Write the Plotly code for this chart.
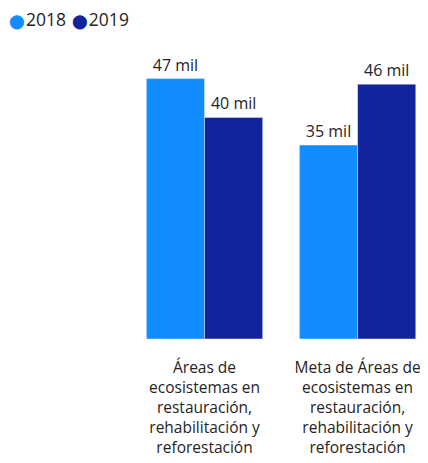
import plotly.graph_objects as go

categorias = [
    "Áreas de<br>ecosistemas en<br>restauración,<br>rehabilitación y<br>reforestación",
    "Meta de Áreas de<br>ecosistemas en<br>restauración,<br>rehabilitación y<br>reforestación",
]
series = ["2018", "2019"]
valores_2018 = [47000, 35000]
valores_2019 = [40000, 46000]
etiquetas_2018 = ["47 mil", "35 mil"]
etiquetas_2019 = ["40 mil", "46 mil"]

color_2018 = "#118DFF"
color_2019 = "#12239E"
fuente = "Open Sans"
texto = "#252423"

fig = go.Figure()

fig.add_trace(
    go.Bar(
        x=categorias,
        y=valores_2018,
        name=series[0],
        text=etiquetas_2018,
        textposition="outside",
        marker_color=color_2018,
        cliponaxis=False,
    )
)
fig.add_trace(
    go.Bar(
        x=categorias,
        y=valores_2019,
        name=series[1],
        text=etiquetas_2019,
        textposition="outside",
        marker_color=color_2019,
        cliponaxis=False,
    )
)

fig.update_traces(textfont=dict(family=fuente, size=16, color=texto))

# legend as a single line of text with round bullets
bala = "font-family:DejaVu Sans;font-size:14px"
hueco = "<span style='font-size:5px'> </span>"
leyenda = (
    f"<span style='color:{color_2018};{bala}'>⬤</span>{hueco}{series[0]} {hueco}"
    f"<span style='color:{color_2019};{bala}'>⬤</span>{hueco}{series[1]}"
)
fig.add_annotation(
    text=leyenda,
    xref="paper",
    yref="paper",
    x=-0.403,
    y=1.157,
    xanchor="left",
    yanchor="middle",
    showarrow=False,
    font=dict(family=fuente, size=17.5, color=texto),
)

# page body adds an 8px offset, so the figure is 8px smaller on each side
fig.update_layout(
    width=420,
    height=455,
    margin=dict(l=120, r=0, t=54, b=124, autoexpand=False),
    paper_bgcolor="white",
    plot_bgcolor="white",
    barmode="group",
    bargap=0.24,
    bargroupgap=0,
    showlegend=False,
    font=dict(family=fuente, size=14, color=texto),
    xaxis=dict(
        range=[-0.5, 1.46],
        showgrid=False,
        showline=False,
        zeroline=False,
        tickangle=0,
        automargin=False,
        ticklen=0,
        ticklabelstandoff=17,
        tickfont=dict(family=fuente, size=15.5, color=texto),
    ),
    yaxis=dict(
        range=[0, 50000],
        visible=False,
        showgrid=False,
        zeroline=False,
        automargin=False,
    ),
)

fig.write_html("out.html")
